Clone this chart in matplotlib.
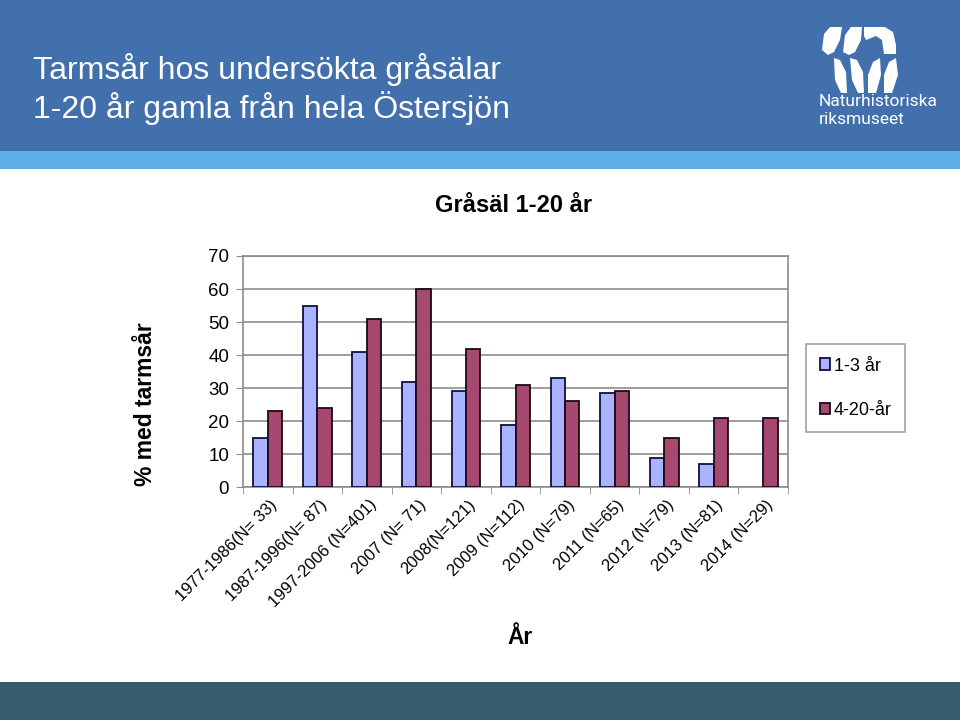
import matplotlib
matplotlib.use("Agg")
import matplotlib.pyplot as plt
from matplotlib.patches import Rectangle, Polygon
import matplotlib.transforms as mtransforms
import numpy as np

plt.rcParams['font.family'] = ['Liberation Sans', 'DejaVu Sans']

categories = ["1977-1986(N= 33)", "1987-1996(N= 87)", "1997-2006 (N=401)", "2007 (N= 71)",
              "2008(N=121)", "2009 (N=112)", "2010 (N=79)", "2011 (N=65)", "2012 (N=79)",
              "2013 (N=81)", "2014 (N=29)"]
young = [15, 55, 41, 32, 29, 19, 33, 28.5, 9, 7, np.nan]
older = [23, 24, 51, 60, 42, 31, 26, 29, 15, 21, 21]
series_names = ["1-3 år", "4-20-år"]
yticks = [0, 10, 20, 30, 40, 50, 60, 70]

W, H = 960, 720
fig = plt.figure(figsize=(9.6, 7.2), dpi=100)

def fx(x):
    return x / W

def fy(y):
    return 1 - y / H

# header bands
fig.patches.append(Rectangle((0, fy(151)), 1, 151 / H, transform=fig.transFigure,
                             facecolor="#4170AD", edgecolor="none", zorder=0))
fig.patches.append(Rectangle((0, fy(169)), 1, 18 / H, transform=fig.transFigure,
                             facecolor="#5FADE7", edgecolor="none", zorder=0))
fig.patches.append(Rectangle((0, 0), 1, 38 / H, transform=fig.transFigure,
                             facecolor="#365B6F", edgecolor="none", zorder=0))

fig.text(fx(33), fy(70), "Tarmsår hos undersökta gråsälar", color="white", fontsize=23,
         ha="left", va="center")
fig.text(fx(33), fy(108), "1-20 år gamla från hela Östersjön", color="white", fontsize=23,
         ha="left", va="center")

# logo (approximate white shapes)
def poly(pts):
    fig.patches.append(Polygon([(fx(x), fy(y)) for x, y in pts], closed=True,
                               transform=fig.transFigure, facecolor="white",
                               edgecolor="none", zorder=1))

poly([(822, 50), (824, 34), (830, 27), (842, 27), (840, 40), (834, 52), (828, 55)])
poly([(843, 52), (845, 35), (851, 27), (862, 27), (861, 40), (855, 52), (849, 55)])
poly([(864, 27), (885, 27), (893, 32), (896, 45), (896, 54), (884, 54), (882, 40), (876, 36), (866, 40), (864, 36)])
poly([(834, 58), (840, 60), (846, 72), (847, 93), (841, 93), (835, 80)])
poly([(850, 58), (857, 60), (863, 72), (864, 93), (858, 93), (852, 80)])
poly([(868, 93), (868, 75), (873, 62), (880, 58), (881, 75), (876, 93)])
poly([(884, 93), (884, 75), (889, 62), (896, 58), (898, 75), (892, 93)])
fig.text(fx(819), fy(102), "Naturhistoriska", color="white", fontsize=12.5,
         family=["Roboto", "DejaVu Sans"], ha="left", va="center")
fig.text(fx(819), fy(119), "riksmuseet", color="white", fontsize=12.5,
         family=["Roboto", "DejaVu Sans"], ha="left", va="center")

# chart
left, right, top, bottom = 243, 788, 256, 487.3
ax = fig.add_axes([fx(left), fy(bottom), (right - left) / W, (bottom - top) / H])
x = np.arange(len(categories))
w = 0.29
ax.bar(x - w / 2, young, w, color="#A9B3FF", edgecolor="#10103A", linewidth=1.3,
       label=series_names[0], zorder=3)
ax.bar(x + w / 2, older, w, color="#A6486F", edgecolor="#1A0A14", linewidth=1.3,
       label=series_names[1], zorder=3)

ax.set_xlim(-0.5, len(categories) - 0.5)
ax.set_ylim(0, 70)
ax.set_yticks(yticks)
ax.set_yticklabels([str(v) for v in yticks], fontsize=13.5)
ax.yaxis.grid(True, color="#8C8C8C", linewidth=1.2, zorder=0)
ax.set_axisbelow(True)
for s in ax.spines.values():
    s.set_color("#8C8C8C")
    s.set_linewidth(1.2)
ax.tick_params(axis="y", direction="out", length=5, color="#8C8C8C", pad=5)
ax.set_xticks(x)
ax.set_xticklabels(categories, rotation=45, ha="right", va="top",
                   rotation_mode="anchor", fontsize=12)
ax.tick_params(axis="x", length=0, pad=7)
ax.set_xticks(np.arange(len(categories) + 1) - 0.5, minor=True)
ax.tick_params(axis="x", which="minor", direction="out", length=5, color="#8C8C8C")
offset = mtransforms.ScaledTranslation(2 / 100, 0, fig.dpi_scale_trans)
for lab in ax.get_xticklabels():
    lab.set_transform(lab.get_transform() + offset)

fig.text(fx(514), fy(205), "Gråsäl 1-20 år", fontsize=17, fontweight="bold",
         ha="center", va="center")
fig.text(fx(145), fy(404), "% med tarmsår", fontsize=16.5, fontweight="bold",
         rotation=90, ha="center", va="center")
fig.text(fx(520), fy(637), "År", fontsize=16.5, fontweight="bold", ha="center", va="center")

leg = fig.legend(loc="upper left", bbox_to_anchor=(fx(806), fy(344)), fontsize=13,
                 frameon=True, fancybox=False, handlelength=0.6, handleheight=0.6,
                 handletextpad=0.2, labelspacing=1.5, borderpad=0.75, borderaxespad=0)
leg.get_frame().set_edgecolor("#8C8C8C")
leg.get_frame().set_linewidth(1.2)

fig.savefig("out.png", dpi=100)
